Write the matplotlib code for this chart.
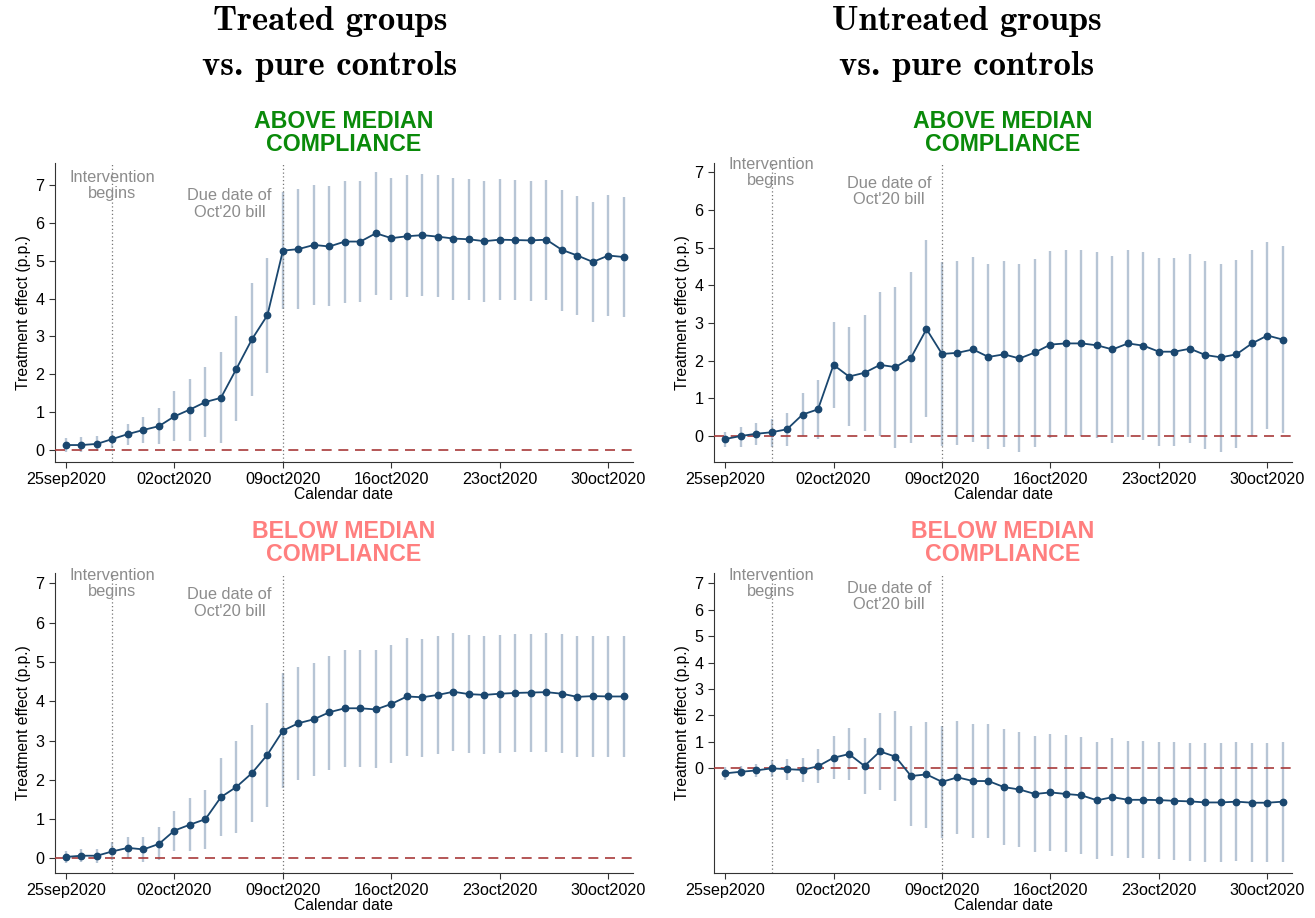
import numpy as np
import pandas as pd
import matplotlib
matplotlib.use('Agg')
import matplotlib.pyplot as plt

plt.rcParams['font.family'] = ['Liberation Sans', 'DejaVu Sans']

# daily event-study estimates, 25sep2020 - 31oct2020
dates = pd.date_range('2020-09-25', '2020-10-31', freq='D')
tick_dates = pd.to_datetime(['2020-09-25', '2020-10-02', '2020-10-09',
                             '2020-10-16', '2020-10-23', '2020-10-30'])
tick_labels = ['25sep2020', '02oct2020', '09oct2020', '16oct2020', '23oct2020', '30oct2020']
start_date = pd.Timestamp('2020-09-28')
due_date = pd.Timestamp('2020-10-09')

# treated vs pure controls, above median compliance
tr_above_est = [0.12, 0.12, 0.15, 0.28, 0.41, 0.52, 0.62, 0.88, 1.06, 1.26, 1.37, 2.14, 2.92, 3.56,
                5.27, 5.31, 5.42, 5.38, 5.51, 5.51, 5.73, 5.60, 5.65, 5.68, 5.64, 5.59, 5.57, 5.52,
                5.56, 5.55, 5.54, 5.56, 5.29, 5.14, 4.97, 5.14, 5.10]
tr_above_lo = [-0.07, -0.07, -0.05, 0.05, 0.13, 0.17, 0.14, 0.23, 0.24, 0.34, 0.17, 0.75, 1.42, 2.04,
               3.72, 3.73, 3.82, 3.79, 3.89, 3.91, 4.10, 3.97, 4.03, 4.07, 4.03, 3.97, 3.97, 3.92,
               3.97, 3.95, 3.93, 3.95, 3.68, 3.56, 3.39, 3.55, 3.51]
tr_above_hi = [0.30, 0.32, 0.35, 0.50, 0.68, 0.87, 1.10, 1.54, 1.88, 2.18, 2.58, 3.54, 4.42, 5.08,
               6.83, 6.90, 7.02, 6.99, 7.12, 7.12, 7.35, 7.20, 7.27, 7.31, 7.26, 7.20, 7.18, 7.11,
               7.16, 7.14, 7.12, 7.15, 6.88, 6.73, 6.56, 6.74, 6.69]

# untreated vs pure controls, above median compliance
un_above_est = [-0.08, 0.00, 0.06, 0.10, 0.18, 0.57, 0.71, 1.89, 1.58, 1.68, 1.89, 1.83, 2.08, 2.84,
                2.18, 2.21, 2.30, 2.10, 2.17, 2.06, 2.22, 2.43, 2.46, 2.46, 2.41, 2.30, 2.46, 2.40,
                2.24, 2.24, 2.32, 2.15, 2.09, 2.17, 2.46, 2.67, 2.56]
un_above_lo = [-0.29, -0.28, -0.24, -0.28, -0.26, 0.00, -0.08, 0.75, 0.26, 0.14, 0.00, -0.31, -0.19, 0.51,
               -0.27, -0.24, -0.16, -0.35, -0.28, -0.42, -0.28, -0.06, -0.01, -0.01, -0.06, -0.19, -0.03,
               -0.10, -0.26, -0.27, -0.19, -0.35, -0.42, -0.33, -0.01, 0.19, 0.08]
un_above_hi = [0.12, 0.24, 0.35, 0.45, 0.60, 1.14, 1.48, 3.03, 2.89, 3.21, 3.82, 3.97, 4.35, 5.21,
               4.61, 4.65, 4.75, 4.56, 4.65, 4.56, 4.71, 4.92, 4.95, 4.94, 4.88, 4.78, 4.95, 4.88,
               4.73, 4.73, 4.84, 4.65, 4.58, 4.68, 4.95, 5.15, 5.05]

# treated vs pure controls, below median compliance
tr_below_est = [0.04, 0.07, 0.07, 0.18, 0.27, 0.23, 0.37, 0.71, 0.86, 1.00, 1.56, 1.82, 2.17, 2.64,
                3.25, 3.44, 3.54, 3.72, 3.82, 3.82, 3.79, 3.93, 4.12, 4.10, 4.16, 4.24, 4.18, 4.16,
                4.19, 4.21, 4.22, 4.23, 4.19, 4.11, 4.13, 4.12, 4.12]
tr_below_lo = [-0.12, -0.09, -0.11, -0.05, 0.00, -0.09, -0.05, 0.19, 0.19, 0.24, 0.56, 0.66, 0.92, 1.30,
               1.80, 2.00, 2.09, 2.26, 2.33, 2.33, 2.30, 2.43, 2.61, 2.59, 2.65, 2.73, 2.69, 2.66,
               2.69, 2.70, 2.70, 2.70, 2.68, 2.58, 2.58, 2.58, 2.58]
tr_below_hi = [0.20, 0.23, 0.25, 0.42, 0.54, 0.54, 0.80, 1.21, 1.53, 1.75, 2.55, 2.99, 3.40, 3.96,
               4.71, 4.88, 4.98, 5.16, 5.29, 5.31, 5.29, 5.43, 5.60, 5.58, 5.66, 5.73, 5.68, 5.66,
               5.69, 5.71, 5.72, 5.74, 5.71, 5.65, 5.67, 5.66, 5.66]

# untreated vs pure controls, below median compliance
un_below_est = [-0.19, -0.13, -0.08, 0.00, -0.03, -0.06, 0.08, 0.40, 0.54, 0.09, 0.64, 0.44, -0.29, -0.23,
                -0.51, -0.34, -0.48, -0.48, -0.71, -0.80, -0.97, -0.91, -0.97, -1.02, -1.21, -1.09, -1.19,
                -1.19, -1.20, -1.23, -1.25, -1.29, -1.29, -1.26, -1.30, -1.30, -1.26]
un_below_lo = [-0.44, -0.34, -0.33, -0.32, -0.44, -0.53, -0.54, -0.40, -0.43, -0.97, -0.81, -1.24, -2.17, -2.24,
               -2.65, -2.50, -2.63, -2.62, -2.89, -2.98, -3.18, -3.12, -3.18, -3.25, -3.44, -3.31, -3.41,
               -3.41, -3.42, -3.45, -3.49, -3.53, -3.54, -3.51, -3.56, -3.56, -3.53]
un_below_hi = [0.06, 0.09, 0.16, 0.32, 0.37, 0.40, 0.73, 1.23, 1.53, 1.15, 2.10, 2.16, 1.62, 1.77,
               1.60, 1.79, 1.67, 1.68, 1.48, 1.39, 1.24, 1.30, 1.26, 1.20, 0.99, 1.14, 1.04, 1.05,
               1.01, 1.00, 0.97, 0.95, 0.97, 0.99, 0.96, 0.96, 1.01]

navy = '#1a476f'
ci_color = '#b7c5d5'
grey_txt = '#8c8c8c'
green = '#0a8a0a'
salmon = '#ff7f7f'


def draw_panel(ax, est, lo, hi, ylim, title, title_color):
    ax.vlines(dates, lo, hi, color=ci_color, lw=1.7, zorder=2)
    ax.axhline(0, color='#a83a3a', lw=1.2, ls=(0, (6, 4)), zorder=3)
    ax.axvline(start_date, color='#777777', lw=0.9, ls=(0, (1, 2)), zorder=3)
    ax.axvline(due_date, color='#777777', lw=0.9, ls=(0, (1, 2)), zorder=3)
    ax.plot(dates, est, color=navy, lw=1.3, marker='o', ms=4.6, zorder=4)

    ax.text(start_date, 7.0, 'Intervention\nbegins', ha='center', va='center',
            color=grey_txt, fontsize=11.8, linespacing=1.12)
    ax.text(due_date - pd.Timedelta(hours=17), 6.5, "Due date of\nOct'20 bill", ha='right',
            va='center', multialignment='center', color=grey_txt, fontsize=11.8, linespacing=1.12)

    ax.set_xlim(dates[0] - pd.Timedelta(hours=17), dates[-1] + pd.Timedelta(hours=14))
    ax.set_ylim(*ylim)
    ax.set_yticks(range(8))
    ax.set_xticks(tick_dates)
    ax.set_xticklabels(tick_labels)
    ax.tick_params(labelsize=11.6, length=4, color='#333333')
    for s in ['top', 'right']:
        ax.spines[s].set_visible(False)
    for s in ['left', 'bottom']:
        ax.spines[s].set_color('#333333')
    ax.set_xlabel('Calendar date', fontsize=11.3, labelpad=0)
    ax.set_ylabel('Treatment effect (p.p.)', fontsize=11.3, labelpad=3)
    ax.set_title(title, color=title_color, fontsize=16.7, fontweight='bold',
                 linespacing=0.95, pad=9)


fig = plt.figure(figsize=(13.15, 9.18), dpi=100)
ax1 = fig.add_axes([0.0418, 0.4967, 0.4395, 0.3257])
ax2 = fig.add_axes([0.5430, 0.4967, 0.4395, 0.3257])
ax3 = fig.add_axes([0.0418, 0.0490, 0.4395, 0.3268])
ax4 = fig.add_axes([0.5430, 0.0490, 0.4395, 0.3268])

draw_panel(ax1, tr_above_est, tr_above_lo, tr_above_hi, (-0.33, 7.59), 'ABOVE MEDIAN\nCOMPLIANCE', green)
draw_panel(ax2, un_above_est, un_above_lo, un_above_hi, (-0.69, 7.25), 'ABOVE MEDIAN\nCOMPLIANCE', green)
draw_panel(ax3, tr_below_est, tr_below_lo, tr_below_hi, (-0.37, 7.26), 'BELOW MEDIAN\nCOMPLIANCE', salmon)
draw_panel(ax4, un_below_est, un_below_lo, un_below_hi, (-3.96, 7.39), 'BELOW MEDIAN\nCOMPLIANCE', salmon)

fig.text(330 / 1315, 0.9673, 'Treated groups', ha='center', va='baseline', family='cmb10', fontsize=25)
fig.text(330 / 1315, 0.9183, 'vs. pure controls', ha='center', va='baseline', family='cmb10', fontsize=25)
fig.text(967 / 1315, 0.9673, 'Untreated groups', ha='center', va='baseline', family='cmb10', fontsize=25)
fig.text(967 / 1315, 0.9183, 'vs. pure controls', ha='center', va='baseline', family='cmb10', fontsize=25)

fig.savefig('out.png', dpi=100)
